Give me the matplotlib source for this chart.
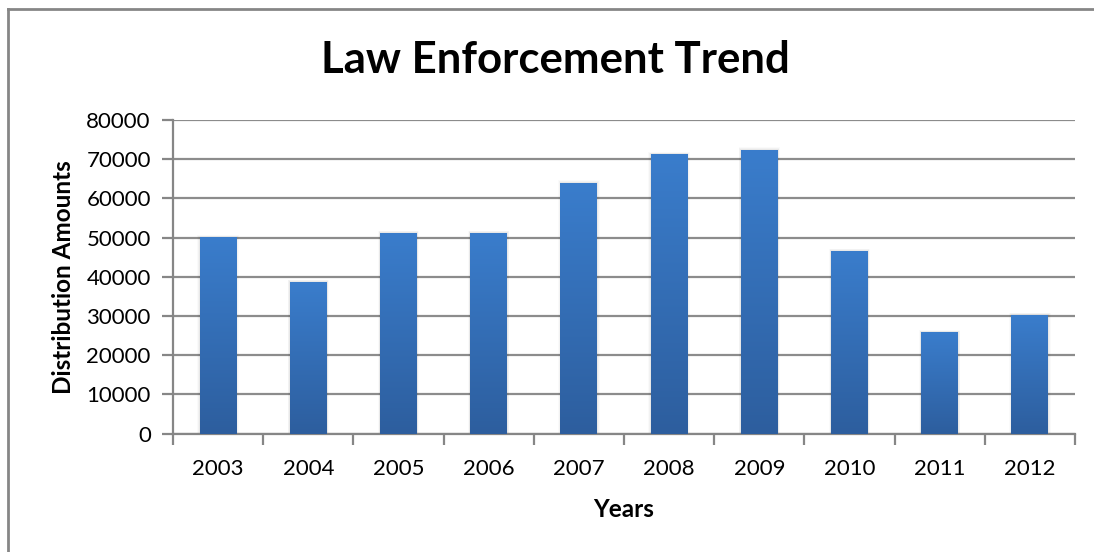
import numpy as np
import matplotlib.pyplot as plt
from matplotlib.lines import Line2D
from matplotlib.patches import Rectangle
from matplotlib.colors import LinearSegmentedColormap

plt.rcParams['font.family'] = ['Lato', 'DejaVu Sans']

years = ['2003', '2004', '2005', '2006', '2007', '2008', '2009', '2010', '2011', '2012']
amounts = [50000, 38700, 51200, 51200, 64000, 71300, 72400, 46600, 25900, 30300]
yticks = [0, 10000, 20000, 30000, 40000, 50000, 60000, 70000, 80000]

fig = plt.figure(figsize=(10.94, 5.52), dpi=100)
ax = fig.add_axes([173 / 1094, 1 - 433.7 / 552, (1075 - 173) / 1094, (433.7 - 120) / 552])

# outer chart border: only top and left edges are inside the picture
bx, by = 7.5 / 1094, 1 - 8.5 / 552
fig.lines.append(Line2D([bx, 1], [by, by], transform=fig.transFigure, color='#868686', linewidth=2))
fig.lines.append(Line2D([bx, bx], [0, by], transform=fig.transFigure, color='#868686', linewidth=2))

x = np.arange(len(years))
width = 0.41
grad = np.linspace(0, 1, 256).reshape(-1, 1)
cmap = LinearSegmentedColormap.from_list('bar', ['#2D5E9E', '#3A7DCC'])

for xi, val in zip(x, amounts):
    # soft shadow
    for k, a in enumerate([0.04, 0.03, 0.02]):
        ax.add_patch(Rectangle((xi - width / 2 - 0.008 * (k + 1), 0), width + 0.016 * (k + 1),
                               val + 200 * (k + 1), facecolor='black', alpha=a,
                               edgecolor='none', zorder=2))
    ax.imshow(grad, extent=(xi - width / 2, xi + width / 2, 0, val), aspect='auto',
              cmap=cmap, origin='lower', zorder=3, interpolation='bicubic')

ax.set_xlim(-0.5, len(years) - 0.5)
ax.set_ylim(0, 80000)
ax.set_yticks(yticks)
ax.set_yticklabels([str(v) for v in yticks], fontsize=16)
ax.yaxis.grid(True, color='#8C8C8C', linewidth=1.6, zorder=1)
ax.set_axisbelow(True)

ax.set_xticks(np.arange(-0.5, len(years), 1.0))
ax.set_xticklabels([])
ax.set_xticks(x, minor=True)
ax.set_xticklabels(years, minor=True, fontsize=16)
ax.tick_params(axis='x', which='minor', length=0, pad=18)
ax.tick_params(axis='x', which='major', length=8, width=1.6, color='#868686', direction='out')
ax.tick_params(axis='y', length=8, width=1.6, color='#868686', pad=8)

for s in ['top', 'right']:
    ax.spines[s].set_visible(False)
for s in ['left', 'bottom']:
    ax.spines[s].set_color('#868686')
    ax.spines[s].set_linewidth(1.6)

ax.set_ylabel('Distribution Amounts', fontsize=17.5, fontweight='bold', labelpad=8)
ax.set_xlabel('Years', fontsize=17.5, fontweight='bold', labelpad=14)
fig.text(555 / 1094, 1 - 60 / 552, 'Law Enforcement Trend', fontsize=31.5,
         fontweight='bold', ha='center', va='center')

fig.savefig('out.png', dpi=100)
